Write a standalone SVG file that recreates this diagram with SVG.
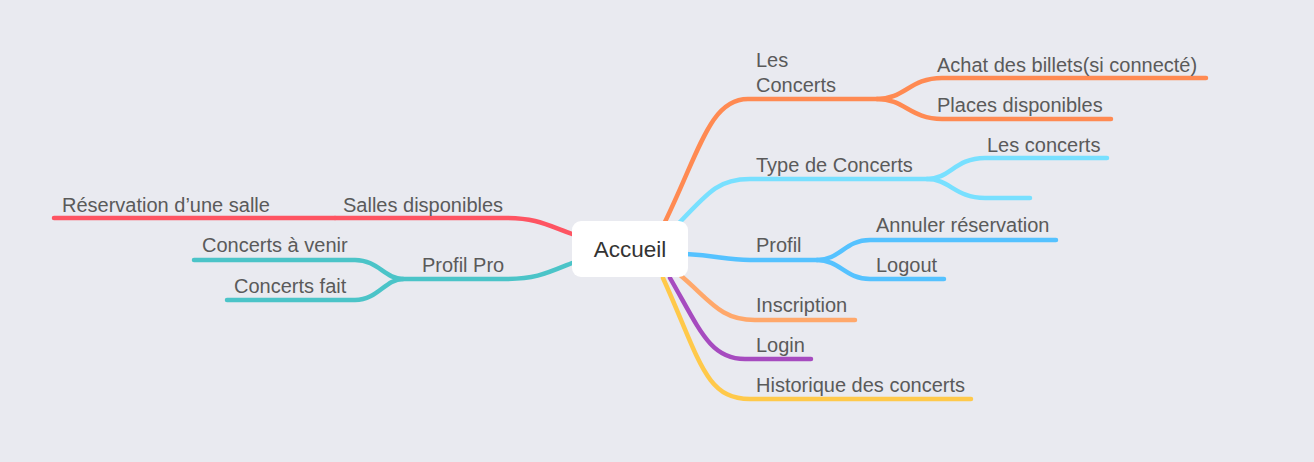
<svg xmlns="http://www.w3.org/2000/svg" width="1314" height="462" viewBox="0 0 1314 462">
<style>
.c{fill:none;stroke-width:4.5;stroke-linecap:round;stroke-linejoin:round}
.t{font-family:"Liberation Sans",Arial,Helvetica,sans-serif;font-size:20px;fill:#5a5a5a}
.root{font-family:"Liberation Sans",Arial,Helvetica,sans-serif;font-size:22.5px;fill:#333333}
</style>
<rect width="1314" height="462" fill="#e9eaf0"/>
<g id="connectors">
<path class="c" stroke="#ff8a52" d="M664,224 C700,150 710,99 748,99 H877"/>
<path class="c" stroke="#ff8a52" d="M877,99 C905,99 910,78 942,78 H1206"/>
<path class="c" stroke="#ff8a52" d="M877,99 C905,99 910,119 942,119 H1111"/>
<path class="c" stroke="#78e0ff" d="M680,222 C710,190 720,179 750,179 H927"/>
<path class="c" stroke="#78e0ff" d="M927,179 C950,179 955,158 985,158 H1107"/>
<path class="c" stroke="#78e0ff" d="M927,179 C950,179 955,198 985,198 H1030"/>
<path class="c" stroke="#55c2ff" d="M686,254 C720,256 725,260 750,260 H817"/>
<path class="c" stroke="#55c2ff" d="M817,260 C840,260 845,240 870,240 H1056"/>
<path class="c" stroke="#55c2ff" d="M817,260 C840,260 845,279 870,279 H944"/>
<path class="c" stroke="#ffa86b" d="M680,275 C710,300 720,320 755,320 H855"/>
<path class="c" stroke="#a64bbf" d="M670,278 C700,330 710,359 745,359 H811"/>
<path class="c" stroke="#ffc94a" d="M663,278 C700,360 705,399 750,399 H971"/>
<path class="c" stroke="#fe5462" d="M572,234 C545,224 535,218 505,218 H335"/>
<path class="c" stroke="#fe5462" d="M335,218 H54"/>
<path class="c" stroke="#4bc4c8" d="M572,263 C545,274 535,279 505,279 H403"/>
<path class="c" stroke="#4bc4c8" d="M403,279 C385,279 378,260 355,260 H194"/>
<path class="c" stroke="#4bc4c8" d="M403,279 C385,279 378,300 355,300 H227"/>
</g>
<g id="accueil">
<rect x="572" y="221" width="116" height="56" rx="9" fill="#ffffff"/>
<text class="root" x="630" y="257" text-anchor="middle">Accueil</text>
</g>
<g id="les-concerts"><text class="t" x="756" y="67">Les</text><text class="t" x="756" y="92">Concerts</text></g>
<g id="achat"><text class="t" x="937" y="72">Achat des billets(si connecté)</text></g>
<g id="places"><text class="t" x="937" y="112">Places disponibles</text></g>
<g id="type-concerts"><text class="t" x="756" y="172">Type de Concerts</text></g>
<g id="les-concerts-2"><text class="t" x="987" y="152">Les concerts</text></g>
<g id="type-empty"></g>
<g id="profil"><text class="t" x="756" y="252">Profil</text></g>
<g id="annuler"><text class="t" x="876" y="232">Annuler réservation</text></g>
<g id="logout"><text class="t" x="876" y="272">Logout</text></g>
<g id="inscription"><text class="t" x="756" y="312">Inscription</text></g>
<g id="login"><text class="t" x="756" y="352">Login</text></g>
<g id="historique"><text class="t" x="756" y="392">Historique des concerts</text></g>
<g id="salles"><text class="t" x="343" y="212">Salles disponibles</text></g>
<g id="reservation"><text class="t" x="62" y="212">Réservation d’une salle</text></g>
<g id="profil-pro"><text class="t" x="422" y="272">Profil Pro</text></g>
<g id="concerts-venir"><text class="t" x="202" y="252">Concerts à venir</text></g>
<g id="concerts-fait"><text class="t" x="234" y="293">Concerts fait</text></g>
</svg>
